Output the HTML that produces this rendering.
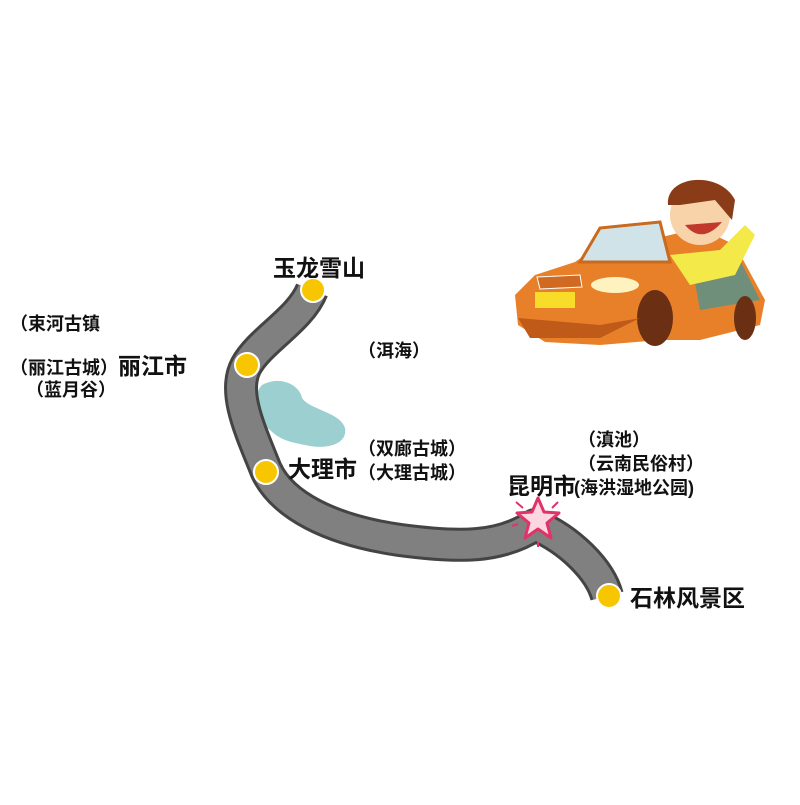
<!DOCTYPE html>
<html><head><meta charset="utf-8"><style>
html,body{margin:0;padding:0;background:#fff}
svg text{font-family:"Liberation Sans","Noto Sans CJK SC",sans-serif;fill:#111;font-weight:bold}
</style></head><body>
<svg width="800" height="800" viewBox="0 0 800 800" xmlns="http://www.w3.org/2000/svg">
<!-- lake -->
<path d="M262,385 C280,375 300,385 302,398 C310,410 340,412 345,428 C348,445 325,450 305,445 C290,442 280,440 270,430 C255,420 252,395 262,385Z" fill="#9ccfcf"/>
<!-- road -->
<path d="M312,290 C300,320 260,340 246,366 C232,392 250,430 266,470 C282,505 330,530 400,540 C460,548 500,548 535,525 C570,540 600,570 607,596" fill="none" stroke="#444" stroke-width="34" stroke-linejoin="round"/>
<path d="M312,290 C300,320 260,340 246,366 C232,392 250,430 266,470 C282,505 330,530 400,540 C460,548 500,548 535,525 C570,540 600,570 607,596" fill="none" stroke="#808080" stroke-width="28" stroke-linejoin="round"/>
<g fill="#f7c600" stroke="#fff" stroke-width="2">
<circle cx="313" cy="290" r="12"/>
<circle cx="247" cy="365" r="12"/>
<circle cx="266" cy="472" r="12"/>
<circle cx="609" cy="596" r="12"/>
</g>
<g transform="translate(538,520)">
<polygon points="0,-22 6,-8 21,-7 9,3 13,18 0,9 -13,18 -9,3 -21,-7 -6,-8" fill="#fcd6e0" stroke="#e0336a" stroke-width="3" stroke-linejoin="round"/>
<g stroke="#e0336a" stroke-width="2"><line x1="-22" y1="-18" x2="-15" y2="-12"/><line x1="20" y1="-18" x2="14" y2="-12"/><line x1="-26" y1="6" x2="-20" y2="4"/><line x1="0" y1="22" x2="0" y2="27"/></g>
</g>
<text x="273" y="276" font-size="23">玉龙雪山</text>
<text x="10" y="330" font-size="18">（束河古镇</text>
<text x="10" y="374" font-size="18">（丽江古城）<tspan font-size="23">丽江市</tspan></text>
<text x="26" y="396" font-size="18">（蓝月谷）</text>
<text x="358" y="357" font-size="18">（洱海）</text>
<text x="288" y="477" font-size="23">大理市</text>
<text x="358" y="455" font-size="18">（双廊古城）</text>
<text x="358" y="479" font-size="18">（大理古城）</text>
<text x="578" y="446" font-size="18">（滇池）</text>
<text x="578" y="470" font-size="18">（云南民俗村）</text>
<text x="507" y="494" font-size="23">昆明市</text>
<text x="574" y="494" font-size="18">(海洪湿地公园)</text>
<text x="630" y="606" font-size="23">石林风景区</text>
<!-- car -->
<g>
<path d="M585,255 L700,228 L735,245 L765,300 L760,325 L700,340 L660,340 L600,345 L545,342 L518,325 L515,295 L535,275 L575,262Z" fill="#e8802a"/>
<path d="M580,262 L600,228 L660,222 L670,262Z" fill="#cfe3e8" stroke="#c96a1f" stroke-width="3"/>
<path d="M690,255 L735,250 L760,300 L700,310Z" fill="#6f8f7a"/>
<path d="M670,255 L720,250 L745,225 L755,235 L735,275 L690,285Z" fill="#f3ea4a"/>
<circle cx="700" cy="215" r="30" fill="#f8d2a8"/>
<path d="M668,205 C665,175 720,170 735,200 L732,220 L715,200 L680,205Z" fill="#8a3c18"/>
<path d="M685,225 Q702,245 722,222Z" fill="#c0392b"/>
<rect x="535" y="292" width="40" height="16" fill="#f7dc2a"/>
<path d="M537,277 L580,275 L582,287 L540,289Z" fill="#d06a22" stroke="#fff" stroke-width="1"/>
<ellipse cx="615" cy="285" rx="24" ry="8" fill="#fdf2c0"/>
<ellipse cx="655" cy="318" rx="18" ry="28" fill="#6b2f14"/>
<ellipse cx="745" cy="318" rx="11" ry="22" fill="#6b2f14"/>
<path d="M518,318 L600,325 L640,318 L600,338 L530,338Z" fill="#c05a18"/>
</g>
</svg>
</body></html>
